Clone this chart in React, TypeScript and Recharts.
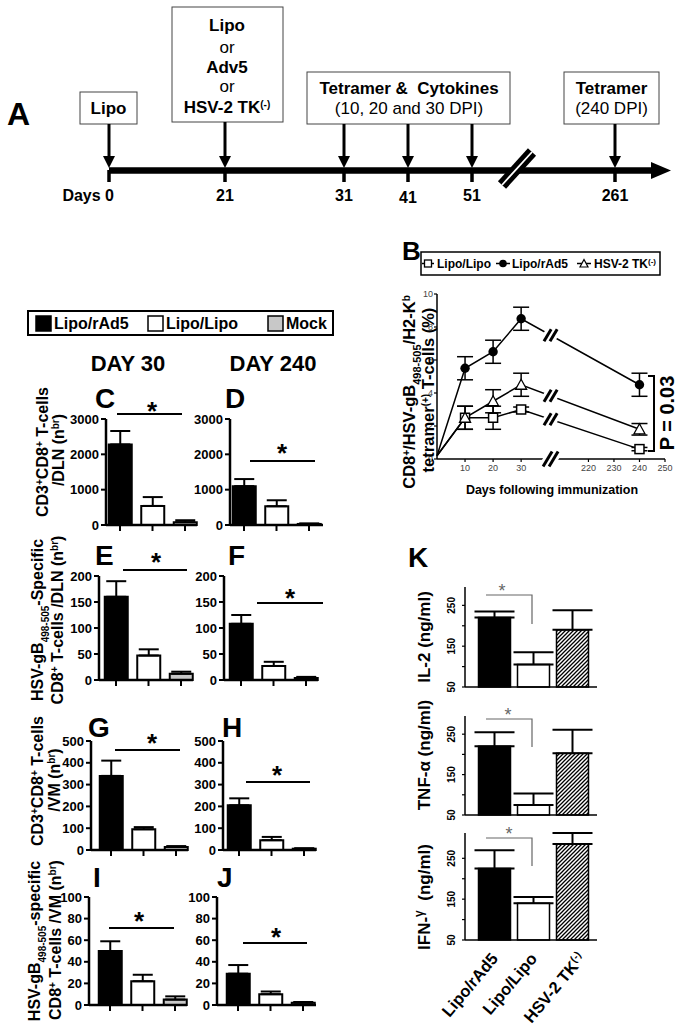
import React from 'react'
import {
  Bar,
  BarChart,
  Cell,
  ErrorBar,
  Line,
  LineChart,
  ReferenceDot,
  XAxis,
  YAxis,
} from 'recharts'

const FONT = '"Liberation Sans", Arial, Helvetica, sans-serif'

// panels C-J : cell numbers (n br)
const groups = ['Lipo/rAd5', 'Lipo/Lipo', 'Mock']
const groupFills = ['#000000', '#ffffff', '#c8c8c8']

const dlnCd8Day30 = [2280, 540, 80]
const dlnCd8Day30Err = [380, 250, 55]
const dlnCd8Day240 = [1100, 530, 30]
const dlnCd8Day240Err = [200, 170, 15]
const dlnTetDay30 = [160, 47, 12]
const dlnTetDay30Err = [30, 12, 4]
const dlnTetDay240 = [108, 27, 4]
const dlnTetDay240Err = [17, 8, 2]
const vmCd8Day30 = [340, 95, 14]
const vmCd8Day30Err = [70, 10, 4]
const vmCd8Day240 = [205, 45, 6]
const vmCd8Day240Err = [32, 15, 2]
const vmTetDay30 = [50, 22, 5]
const vmTetDay30Err = [9, 6, 3]
const vmTetDay240 = [29, 10, 2]
const vmTetDay240Err = [8, 2.5, 0.8]

// panel B : tetramer+ cells (%)
const days = [0, 10, 20, 30, 240]
const dayTicks = [10, 20, 30, 220, 230, 240, 250]
const lipoLipo = [0.2, 2.5, 2.5, 3.0, 0.6]
const lipoLipoErr = [0, 0.7, 0.7, 0.15, 0.1]
const lipoRad5 = [0.2, 5.5, 6.5, 8.5, 4.5]
const lipoRad5Err = [0, 0.7, 0.7, 0.7, 0.7]
const hsvTk = [0.2, 2.5, 3.5, 4.5, 1.8]
const hsvTkErr = [0, 0.7, 0.7, 0.7, 0.35]

// panel K : cytokines (ng/ml)
const cytoGroups = ['Lipo/rAd5', 'Lipo/Lipo', 'HSV-2 TK(-)']
const il2 = [220, 105, 190]
const il2Err = [15, 30, 48]
const tnf = [220, 75, 203]
const tnfErr = [35, 28, 58]
const ifn = [225, 140, 285]
const ifnErr = [45, 15, 27]
const cytoTicks = [50, 100, 150, 200, 250]
const cytoTickLabels = [50, 150, 250]

// panel A : schedule
const scheduleDays = ['Days 0', '21', '31', '41', '51', '261']

const axisStyle = { stroke: '#000', strokeWidth: 2.5 }

type SmallProps = {
  values: number[]
  errors: number[]
  yMax: number
  yTicks: number[]
  left: number
  c0: number
  right: number
  top: number
  bottom: number
}

function SmallBars({ values, errors, yMax, yTicks, left, c0, right, top, bottom }: SmallProps) {
  const step = 32.5
  const data = groups.map((name, i) => ({ idx: i, name, value: values[i], err: [0, errors[i]] }))
  return (
    <div style={{ position: 'absolute', left: left - 50, top: top - 10 }}>
      <BarChart
        width={right - left + 60}
        height={bottom - top + 20}
        data={data}
        margin={{ top: 10, right: 10, bottom: 0, left: 0 }}
      >
        <XAxis
          type="number"
          dataKey="idx"
          domain={[-(c0 - left) / step, (right - c0) / step]}
          ticks={[0, 1, 2]}
          interval={0}
          height={10}
          tickSize={6}
          tickFormatter={() => ''}
          axisLine={axisStyle}
          tickLine={{ stroke: '#000', strokeWidth: 2 }}
        />
        <YAxis
          type="number"
          domain={[0, yMax]}
          ticks={yTicks}
          interval={0}
          width={50}
          tickSize={5}
          tickMargin={2}
          axisLine={axisStyle}
          tickLine={{ stroke: '#000', strokeWidth: 2 }}
          tick={{ fill: '#000', fontSize: 13, fontWeight: 700, fontFamily: FONT }}
        />
        <Bar dataKey="value" barSize={23} stroke="#000" strokeWidth={2} isAnimationActive={false}>
          {data.map((d, i) => (
            <Cell key={d.name} fill={groupFills[i]} />
          ))}
          <ErrorBar dataKey="err" width={10} stroke="#000" strokeWidth={2} direction="y" />
        </Bar>
      </BarChart>
    </div>
  )
}

// broken x axis of panel B: days 0-40 then 210-250
function axisPos(day: number) {
  return day <= 40 ? day : 54 + (day - 220) * 0.91
}
const breakPos = 40.5

function BreakMark({ cx, cy, h }: { cx: number; cy: number; h: number }) {
  const dx = h * 0.3
  const dy = h / 2
  return (
    <g>
      <line x1={cx - dx} y1={cy + dy} x2={cx + dx} y2={cy - dy} stroke="#fff" strokeWidth={14} />
      <line x1={cx - dx - 3} y1={cy + dy} x2={cx + dx - 3} y2={cy - dy} stroke="#000" strokeWidth={3} />
      <line x1={cx - dx + 3} y1={cy + dy} x2={cx + dx + 3} y2={cy - dy} stroke="#000" strokeWidth={3} />
    </g>
  )
}

const squareDot = (p: any) =>
  p.index === 0 ? (
    <g key={`sq-${p.index}`} />
  ) : (
    <rect key={`sq-${p.index}`} x={p.cx - 4.5} y={p.cy - 4.5} width={9} height={9} fill="#fff" stroke="#000" strokeWidth={1.5} />
  )
const circleDot = (p: any) =>
  p.index === 0 ? <g key={`ci-${p.index}`} /> : <circle key={`ci-${p.index}`} cx={p.cx} cy={p.cy} r={4.7} fill="#000" />
const triangleDot = (p: any) =>
  p.index === 0 ? (
    <g key={`tr-${p.index}`} />
  ) : (
    <polygon
      key={`tr-${p.index}`}
      points={`${p.cx - 5.5},${p.cy + 4.5} ${p.cx + 5.5},${p.cy + 4.5} ${p.cx},${p.cy - 5.5}`}
      fill="#fff"
      stroke="#000"
      strokeWidth={1.3}
    />
  )

function TetramerChart() {
  const data = days.map((d, i) => ({
    pos: axisPos(d),
    lipo: lipoLipo[i],
    lipoErr: lipoLipoErr[i],
    rad5: lipoRad5[i],
    rad5Err: lipoRad5Err[i],
    tk: hsvTk[i],
    tkErr: hsvTkErr[i],
  }))
  const tickPos = dayTicks.map(axisPos)
  const atBreak = (vals: number[]) => {
    const a = axisPos(days[3])
    const b = axisPos(days[4])
    return vals[3] + ((vals[4] - vals[3]) * (breakPos - a)) / (b - a)
  }
  const tickFont = { fontSize: 9, fill: '#444', fontFamily: FONT }
  return (
    <div style={{ position: 'absolute', left: 387, top: 284 }}>
      <LineChart width={288} height={195} data={data} margin={{ top: 10, right: 10, bottom: 0, left: 0 }}>
        <XAxis
          type="number"
          dataKey="pos"
          domain={[0, axisPos(250)]}
          ticks={tickPos}
          interval={0}
          height={20}
          tickSize={3}
          tickMargin={3}
          tickFormatter={(v: number) => String(dayTicks[tickPos.findIndex((t) => Math.abs(t - v) < 0.01)])}
          axisLine={{ stroke: '#000', strokeWidth: 1.5 }}
          tickLine={{ stroke: '#000', strokeWidth: 1.2 }}
          tick={tickFont}
        />
        <YAxis
          type="number"
          domain={[0, 10]}
          ticks={[0, 2, 4, 6, 8, 10]}
          interval={0}
          width={50}
          tickSize={3}
          tickMargin={1}
          axisLine={{ stroke: '#000', strokeWidth: 1.5 }}
          tickLine={{ stroke: '#000', strokeWidth: 1.2 }}
          tick={tickFont}
        />
        <Line type="linear" dataKey="lipo" stroke="#000" strokeWidth={1.5} dot={squareDot} isAnimationActive={false}>
          <ErrorBar dataKey="lipoErr" width={8} stroke="#000" strokeWidth={1.5} direction="y" />
        </Line>
        <Line type="linear" dataKey="tk" stroke="#000" strokeWidth={1.5} dot={triangleDot} isAnimationActive={false}>
          <ErrorBar dataKey="tkErr" width={8} stroke="#000" strokeWidth={1.5} direction="y" />
        </Line>
        <Line type="linear" dataKey="rad5" stroke="#000" strokeWidth={1.5} dot={circleDot} isAnimationActive={false}>
          <ErrorBar dataKey="rad5Err" width={8} stroke="#000" strokeWidth={1.5} direction="y" />
        </Line>
        {[lipoLipo, hsvTk, lipoRad5].map((vals, i) => (
          <ReferenceDot
            key={`brk-${i}`}
            x={breakPos}
            y={atBreak(vals)}
            r={1}
            ifOverflow="visible"
            shape={(p: any) => <BreakMark cx={p.cx} cy={p.cy} h={12} />}
          />
        ))}
        <ReferenceDot x={breakPos} y={0} r={1} ifOverflow="visible" shape={(p: any) => <BreakMark cx={p.cx} cy={p.cy} h={15} />} />
      </LineChart>
    </div>
  )
}

function CytoYTick(props: any) {
  const { x, y, payload } = props
  if (!cytoTickLabels.includes(payload.value)) return <g />
  const ax = x - 5
  return (
    <text
      x={ax}
      y={y}
      transform={`rotate(-90, ${ax}, ${y})`}
      textAnchor="middle"
      fontSize={10}
      fontWeight={700}
      fontFamily={FONT}
      fill="#000"
    >
      {payload.value}
    </text>
  )
}

const labelShift = [5, 5, 14]
function CytoTick(props: any) {
  const { x, y, payload } = props
  const label: string = cytoGroups[payload.value] ?? ''
  const sup = label.endsWith('(-)')
  const main = sup ? label.slice(0, -3) : label
  return (
    <g transform={`translate(${x + labelShift[payload.value]},${y + 19})`}>
      <text transform="rotate(-50)" textAnchor="end" fontSize={16.5} fontFamily={FONT} fontWeight={700} fill="#000">
        {main}
        {sup && (
          <tspan baselineShift="super" fontSize={10.5}>
            (-)
          </tspan>
        )}
      </text>
    </g>
  )
}

type CytoProps = {
  values: number[]
  errors: number[]
  yMax: number
  top: number
  bottom: number
  withLabels: boolean
  patternId: string
}

function CytoBars({ values, errors, yMax, top, bottom, withLabels, patternId }: CytoProps) {
  const left = 465
  const right = 597
  const c0 = 494
  const step = 39
  const xh = withLabels ? 88 : 6
  const data = cytoGroups.map((name, i) => ({ idx: i, name, value: values[i], err: [0, errors[i]] }))
  const fills = ['#000', '#fff', `url(#${patternId})`]
  return (
    <div style={{ position: 'absolute', left: left - 50, top: top - 10 }}>
      <BarChart width={right - left + 60} height={bottom - top + 10 + xh} data={data} margin={{ top: 10, right: 10, bottom: 0, left: 0 }}>
        <defs>
          <pattern id={patternId} patternUnits="userSpaceOnUse" width={4} height={4}>
            <rect width={4} height={4} fill="#fff" />
            <path d="M-1,1 l2,-2 M0,4 l4,-4 M3,5 l2,-2" stroke="#000" strokeWidth={1.3} />
          </pattern>
        </defs>
        <XAxis
          type="number"
          dataKey="idx"
          domain={[-(c0 - left) / step, (right - c0) / step]}
          ticks={[0, 1, 2]}
          interval={0}
          height={xh}
          tickLine={false}
          tickSize={0}
          tickMargin={0}
          tick={withLabels ? CytoTick : () => <g />}
          axisLine={{ stroke: '#000', strokeWidth: 1.5 }}
        />
        <YAxis
          type="number"
          domain={[50, yMax]}
          ticks={cytoTicks}
          interval={0}
          width={50}
          tickSize={3}
          tickMargin={2}
          axisLine={{ stroke: '#000', strokeWidth: 1.5 }}
          tickLine={{ stroke: '#000', strokeWidth: 1.2 }}
          tick={CytoYTick}
        />
        <Bar dataKey="value" barSize={32} stroke="#000" strokeWidth={1.5} isAnimationActive={false}>
          {data.map((d, i) => (
            <Cell key={d.name} fill={fills[i]} />
          ))}
          <ErrorBar dataKey="err" width={20} stroke="#000" strokeWidth={2} direction="y" />
        </Bar>
      </BarChart>
    </div>
  )
}

const Sup = ({ children, size = 10 }: { children: React.ReactNode; size?: number }) => (
  <tspan baselineShift="super" fontSize={size}>
    {children}
  </tspan>
)
const Sub = ({ children, size = 10 }: { children: React.ReactNode; size?: number }) => (
  <tspan baselineShift="sub" fontSize={size}>
    {children}
  </tspan>
)

// rotated axis title; x is the visual centre of the text column
function VLabel({ x, y, size = 16, children }: { x: number; y: number; size?: number; children: React.ReactNode }) {
  return (
    <text
      transform={`translate(${x + size * 0.36},${y}) rotate(-90)`}
      textAnchor="middle"
      fontSize={size}
      fontFamily={FONT}
      fontWeight={700}
      fill="#000"
      style={{ whiteSpace: 'pre' }}
    >
      {children}
    </text>
  )
}

function Star({ x, y, size = 26, color = '#000', weight = 700 }: { x: number; y: number; size?: number; color?: string; weight?: number }) {
  return (
    <text x={x} y={y + size * 0.54} textAnchor="middle" fontSize={size} fontFamily={FONT} fontWeight={weight} fill={color}>
      *
    </text>
  )
}

function Overlay() {
  const bold = { fontFamily: FONT, fontWeight: 700, fill: '#000' }
  const reg = { fontFamily: FONT, fontWeight: 400, fill: '#000' }
  const arrowXs = [109, 225, 344, 408, 472, 615]
  const arrowTops = [124, 122, 124, 124, 124, 124]
  const labelYs = [201, 201, 201, 203, 201, 201]
  const sigLines = [
    [117, 182, 414, 152, 406],
    [250, 315, 461, 282, 448],
    [123, 187, 570, 156, 557],
    [257, 323, 603, 290, 593],
    [115, 180, 750, 152, 738],
    [246, 310, 782, 277, 770],
    [109, 174, 928, 139, 916],
    [243, 307, 943, 276, 932],
  ]
  const letters: [string, number, number][] = [
    ['C', 95, 408],
    ['D', 225, 408],
    ['E', 95, 565],
    ['F', 228, 565],
    ['G', 88, 737],
    ['H', 222, 737],
    ['I', 93, 887],
    ['J', 217, 887],
  ]
  const kSig = [
    [595, 624, 502, 587],
    [719, 747, 508, 711],
    [838, 866, 509, 830],
  ]
  return (
    <svg width={679} height={1028} style={{ position: 'absolute', left: 0, top: 0, pointerEvents: 'none' }}>
      {/* A: schedule */}
      <text x={7} y={125} fontSize={32} {...bold}>A</text>
      <rect x={80} y={92} width={57} height={32} fill="#fff" stroke="#444" strokeWidth={1} />
      <text x={108.5} y={114} fontSize={17} textAnchor="middle" {...bold}>Lipo</text>
      <rect x={172} y={7} width={111} height={115} fill="#fff" stroke="#444" strokeWidth={1} />
      <text x={227} y={31} fontSize={17} textAnchor="middle" {...bold}>Lipo</text>
      <text x={227} y={53} fontSize={17} textAnchor="middle" {...reg}>or</text>
      <text x={227} y={73} fontSize={17} textAnchor="middle" {...bold}>Adv5</text>
      <text x={227} y={92} fontSize={17} textAnchor="middle" {...reg}>or</text>
      <text x={227} y={113} fontSize={17} textAnchor="middle" {...bold}>
        HSV-2 TK<Sup size={10}>(-)</Sup>
      </text>
      <rect x={307} y={72} width={203} height={52} fill="#fff" stroke="#444" strokeWidth={1} />
      <text x={409} y={94} fontSize={17} textAnchor="middle" {...bold} style={{ whiteSpace: 'pre' }}>
        {'Tetramer &  Cytokines'}
      </text>
      <text x={409} y={114} fontSize={17} textAnchor="middle" {...reg}>(10, 20 and 30 DPI)</text>
      <rect x={564} y={72} width={95} height={52} fill="#fff" stroke="#444" strokeWidth={1} />
      <text x={611.5} y={94} fontSize={17} textAnchor="middle" {...bold}>Tetramer</text>
      <text x={611.5} y={114} fontSize={17} textAnchor="middle" {...reg}>(240 DPI)</text>
      <line x1={109} y1={170.5} x2={655} y2={170.5} stroke="#000" strokeWidth={6.5} />
      <polygon points="651,162 671,170.5 651,179" fill="#000" />
      {arrowXs.map((x, i) => (
        <g key={`arr-${x}`}>
          <line x1={x} y1={arrowTops[i]} x2={x} y2={158} stroke="#000" strokeWidth={3} />
          <polygon points={`${x - 6},156 ${x + 6},156 ${x},168`} fill="#000" />
          <line x1={x} y1={170} x2={x} y2={182} stroke="#000" strokeWidth={3.5} />
          <text x={i === 0 ? x + 5 : x} y={labelYs[i]} fontSize={16} textAnchor={i === 0 ? 'end' : 'middle'} {...bold}>
            {scheduleDays[i]}
          </text>
        </g>
      ))}
      <line x1={502} y1={185} x2={532} y2={152} stroke="#000" strokeWidth={11} />
      <line x1={502} y1={185} x2={532} y2={152} stroke="#fff" strokeWidth={1.8} />

      {/* C-J legend & titles */}
      <rect x={28} y={311} width={305} height={24} fill="#fff" stroke="#000" strokeWidth={2} />
      {groups.map((g, i) => {
        const sx = [36, 148, 268][i]
        return (
          <g key={g}>
            <rect x={sx} y={316} width={15} height={15} fill={groupFills[i]} stroke="#000" strokeWidth={1.5} />
            <text x={sx + 18} y={329} fontSize={16} {...bold}>{g}</text>
          </g>
        )
      })}
      <text x={128} y={371} fontSize={22} textAnchor="middle" {...bold}>DAY 30</text>
      <text x={273} y={371} fontSize={22} textAnchor="middle" {...bold}>DAY 240</text>
      {letters.map(([l, x, y]) => (
        <text key={l} x={x} y={y} fontSize={28} {...bold}>{l}</text>
      ))}
      {sigLines.map(([x1, x2, y, sx, sy]) => (
        <g key={`sig-${y}`}>
          <line x1={x1} y1={y} x2={x2} y2={y} stroke="#000" strokeWidth={2.2} />
          <Star x={sx} y={sy} />
        </g>
      ))}
      <VLabel x={42} y={452}>
        CD3<Sup>+</Sup>CD8<Sup>+</Sup> T-cells
      </VLabel>
      <VLabel x={58} y={450}>
        /DLN (n<Sup>br</Sup>)
      </VLabel>
      <VLabel x={37} y={620}>
        HSV-gB<Sub>498-505</Sub>-Specific
      </VLabel>
      <VLabel x={57} y={620}>
        CD8<Sup>+</Sup> T-cells /DLN (n<Sup>br</Sup>)
      </VLabel>
      <VLabel x={37} y={781}>
        CD3<Sup>+</Sup>CD8<Sup>+</Sup> T-cells
      </VLabel>
      <VLabel x={54} y={780}>
        /VM (n<Sup>br</Sup>)
      </VLabel>
      <VLabel x={34} y={941}>
        HSV-gB<Sub>498-505</Sub>-specific
      </VLabel>
      <VLabel x={55} y={940}>
        CD8<Sup>+</Sup> T-cells /VM (n<Sup>br</Sup>)
      </VLabel>

      {/* B */}
      <text x={402} y={260} fontSize={26} {...bold}>B</text>
      <rect x={421} y={252} width={239} height={23} fill="#fff" stroke="#000" strokeWidth={1.5} />
      <line x1={422} y1={263.5} x2={434} y2={263.5} stroke="#000" strokeWidth={1.5} />
      <rect x={424.5} y={260} width={7} height={7} fill="#fff" stroke="#000" strokeWidth={1.3} />
      <text x={437} y={268} fontSize={12} {...bold}>Lipo/Lipo</text>
      <line x1={496} y1={263.5} x2={510} y2={263.5} stroke="#000" strokeWidth={1.5} />
      <circle cx={503} cy={263.5} r={3.8} fill="#000" />
      <text x={512} y={268} fontSize={12} {...bold}>Lipo/rAd5</text>
      <line x1={577} y1={263.5} x2={591} y2={263.5} stroke="#000" strokeWidth={1.5} />
      <polygon points="580,267 588,267 584,259.5" fill="#fff" stroke="#000" strokeWidth={1.2} />
      <text x={594} y={268} fontSize={12} {...bold}>
        HSV-2 TK<Sup size={8}>(-)</Sup>
      </text>
      <VLabel x={409} y={392} size={16.5}>
        CD8<Sup>+</Sup>/HSV-gB<Sub size={11}>498-505</Sub>/H2-K<Sup>b</Sup>
      </VLabel>
      <VLabel x={428} y={390} size={16.5}>
        tetramer<Sup>(+)</Sup> T-cells (%)
      </VLabel>
      <text x={552} y={494} fontSize={12.5} textAnchor="middle" {...bold}>Days following immunization</text>
      <path d="M648,376 H654 V451 H648" fill="none" stroke="#000" strokeWidth={2} />
      <VLabel x={667} y={413} size={20}>
        P = 0.03
      </VLabel>

      {/* K */}
      <text x={408} y={567} fontSize={28} {...bold}>K</text>
      <VLabel x={424} y={637} size={17}>IL-2 (ng/ml)</VLabel>
      <VLabel x={424} y={755} size={17}>TNF-α (ng/ml)</VLabel>
      <VLabel x={424} y={897} size={17}>
        {'IFN-'}
        <Sup size={12}>γ</Sup>
        {'  (ng/ml)'}
      </VLabel>
      {kSig.map(([y, y2, sx, sy]) => (
        <g key={`k-${y}`}>
          <path d={`M486,${y} H532 V${y2}`} fill="none" stroke="#666" strokeWidth={1.2} />
          <Star x={sx} y={sy} size={18} color="#666" weight={400} />
        </g>
      ))}
    </svg>
  )
}

export default function App() {
  return (
    <div
      style={{
        position: 'absolute',
        left: 0,
        top: 0,
        width: 679,
        height: 1028,
        overflow: 'hidden',
        background: '#fff',
        fontFamily: FONT,
      }}
    >
      <SmallBars values={dlnCd8Day30} errors={dlnCd8Day30Err} yMax={3000} yTicks={[0, 1000, 2000, 3000]} left={106} c0={120} right={197} top={419} bottom={525} />
      <SmallBars values={dlnCd8Day240} errors={dlnCd8Day240Err} yMax={3000} yTicks={[0, 1000, 2000, 3000]} left={230} c0={244} right={323} top={419} bottom={525} />
      <SmallBars values={dlnTetDay30} errors={dlnTetDay30Err} yMax={200} yTicks={[0, 50, 100, 150, 200]} left={99} c0={116} right={193} top={576} bottom={680} />
      <SmallBars values={dlnTetDay240} errors={dlnTetDay240Err} yMax={200} yTicks={[0, 50, 100, 150, 200]} left={224} c0={241} right={318} top={576} bottom={680} />
      <SmallBars values={vmCd8Day30} errors={vmCd8Day30Err} yMax={500} yTicks={[0, 100, 200, 300, 400, 500]} left={91} c0={111} right={188} top={741} bottom={850} />
      <SmallBars values={vmCd8Day240} errors={vmCd8Day240Err} yMax={500} yTicks={[0, 100, 200, 300, 400, 500]} left={223} c0={239} right={316} top={741} bottom={850} />
      <SmallBars values={vmTetDay30} errors={vmTetDay30Err} yMax={100} yTicks={[0, 20, 40, 60, 80, 100]} left={89} c0={110} right={187} top={897} bottom={1005} />
      <SmallBars values={vmTetDay240} errors={vmTetDay240Err} yMax={100} yTicks={[0, 20, 40, 60, 80, 100]} left={217} c0={238} right={316} top={897} bottom={1005} />
      <TetramerChart />
      <CytoBars values={il2} errors={il2Err} yMax={295} top={587} bottom={687} withLabels={false} patternId="hatch-il2" />
      <CytoBars values={tnf} errors={tnfErr} yMax={295} top={716} bottom={815} withLabels={false} patternId="hatch-tnf" />
      <CytoBars values={ifn} errors={ifnErr} yMax={312} top={833} bottom={940} withLabels patternId="hatch-ifn" />
      <Overlay />
    </div>
  )
}
